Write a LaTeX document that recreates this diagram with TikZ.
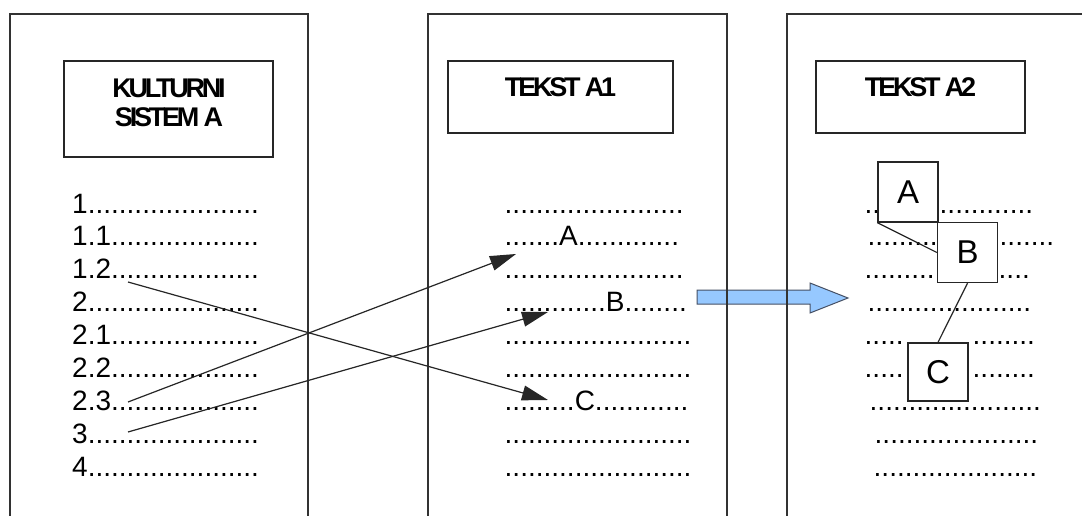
\documentclass[tikz,border=0pt]{standalone}
\usepackage{fontspec}
\setmainfont{Liberation Sans}
\newfontfamily\hdrfont[LetterSpace=-12]{Liberation Sans Bold}
\usetikzlibrary{arrows.meta}
\definecolor{linegray}{RGB}{50,50,50}
\definecolor{arrowfill}{RGB}{150,200,255}
\definecolor{arrowedge}{RGB}{70,80,100}
\newcommand\dotrun[1]{\foreach\k in {1,...,#1}{.}}
\begin{document}
\begin{tikzpicture}[x=1pt,y=-1pt,
 panel/.style={draw=linegray,line width=1.6pt},
 hdrbox/.style={draw=black!85,line width=1.6pt,fill=white,inner sep=0pt},
 hdrtext/.style={font=\hdrfont\fontsize{27}{30}\selectfont,inner sep=0pt,anchor=base},
 row/.style={font=\fontsize{28}{32}\selectfont,inner sep=0pt,anchor=base west,text=black},
 letterbox/.style={draw=black!85,line width=1.3pt,fill=white,minimum width=60pt,minimum height=60pt,inner sep=0pt,font=\fontsize{33}{36}\selectfont},
 link/.style={draw=black!85,line width=1.2pt},
 pointer/.style={link,-{Triangle[length=26pt,width=15pt]}},
 blockarrow/.style={fill=arrowfill,draw=arrowedge,line width=1pt}
]
\useasboundingbox[fill=white] (0,0) rectangle (1082,516);

% block arrow (behind panel edges)
\draw[blockarrow] (697,290) -- (810,290) -- (810,283) -- (848,298) -- (810,313) -- (810,304) -- (697,304) -- cycle;

% panels
\draw[panel] (10,516) -- (10,14) -- (308,14) -- (308,516);
\draw[panel] (428,516) -- (428,14) -- (727,14) -- (727,516);
\draw[panel] (787,516) -- (787,14) -- (1082,14);

% header boxes
\node[hdrbox,minimum width=209pt,minimum height=96pt] (h1) at (168.5,109) {};
\node[hdrbox,minimum width=225pt,minimum height=72pt] (h2) at (560.5,97) {};
\node[hdrbox,minimum width=209pt,minimum height=72pt] (h3) at (920.5,97) {};
\node[hdrtext] (h1a) at (169,98) {KULTURNI};
\node[hdrtext] (h1b) at (169,127) {SISTEM A};
\node[hdrtext] (h2a) at (560.5,97) {TEKST A1};
\node[hdrtext] (h3a) at (920.5,97) {TEKST A2};

% left list
\node[row] (l1)  at (72,213) {1\dotrun{22}};
\node[row] (l11) at (72,245) {1.1\dotrun{19}};
\node[row] (l12) at (72,278) {1.2\dotrun{19}};
\node[row] (l2)  at (72,311) {2\dotrun{22}};
\node[row] (l21) at (72,344) {2.1\dotrun{19}};
\node[row] (l22) at (72,377) {2.2\dotrun{19}};
\node[row] (l23) at (72,410) {2.3\dotrun{19}};
\node[row] (l3)  at (72,443) {3\dotrun{22}};
\node[row] (l4)  at (72,476) {4\dotrun{22}};

% middle text
\node[row] (m1) at (504.5,213) {\dotrun{23}};
\node[row] (m2) at (504.5,245) {\dotrun{7}A\dotrun{13}};
\node[row] (m3) at (504.5,278) {\dotrun{23}};
\node[row] (m4) at (504.5,311) {\dotrun{13}B\dotrun{8}};
\node[row] (m5) at (504.5,344) {\dotrun{24}};
\node[row] (m6) at (504.5,377) {\dotrun{24}};
\node[row] (m7) at (504.5,410) {\dotrun{9}C\dotrun{12}};
\node[row] (m8) at (504.5,443) {\dotrun{24}};
\node[row] (m9) at (504.5,476) {\dotrun{24}};

% right text (split around the boxes)
\node[row] (r1a) at (864.5,213) {\dotrun{2}};
\node[row] (r1b) at (939.5,213) {\dotrun{12}};
\node[row] (r2a) at (867.5,245) {\dotrun{9}};
\node[row] (r2b) at (999.5,245) {\dotrun{7}};
\node[row] (r3a) at (864.5,278) {\dotrun{9}};
\node[row] (r3b) at (998.5,278) {\dotrun{4}};
\node[row] (r4) at (867.5,311) {\dotrun{21}};
\node[row] (r5a) at (864.5,344) {\dotrun{5}};
\node[row] (r5b) at (972.5,344) {\dotrun{8}};
\node[row] (r6a) at (864.5,377) {\dotrun{5}};
\node[row] (r6b) at (972.5,377) {\dotrun{8}};
\node[row] (r7) at (869.5,410) {\dotrun{22}};
\node[row] (r8) at (874.5,443) {\dotrun{21}};
\node[row] (r9) at (873.5,476) {\dotrun{21}};

% pointers from list to text
\coordinate (s12) at (128,282);
\coordinate (s23) at (128,402);
\coordinate (s3)  at (128,432);
\coordinate (tA)  at (516,254);
\coordinate (tB)  at (548,312);
\coordinate (tC)  at (548,400);
\draw[pointer] (s12) -- (tC);
\draw[pointer] (s23) -- (tA);
\draw[pointer] (s3) -- (tB);

% right boxes
\node[letterbox] (bA) at (908,192) {A};
\node[letterbox] (bB) at (967.5,252.5) {B};
\node[letterbox,minimum height=58pt] (bC) at (938,372) {C};
\draw[link] (bA.south west) -- (bB.west);
\draw[link] (bB.south) -- (bC.north);
\end{tikzpicture}
\end{document}
